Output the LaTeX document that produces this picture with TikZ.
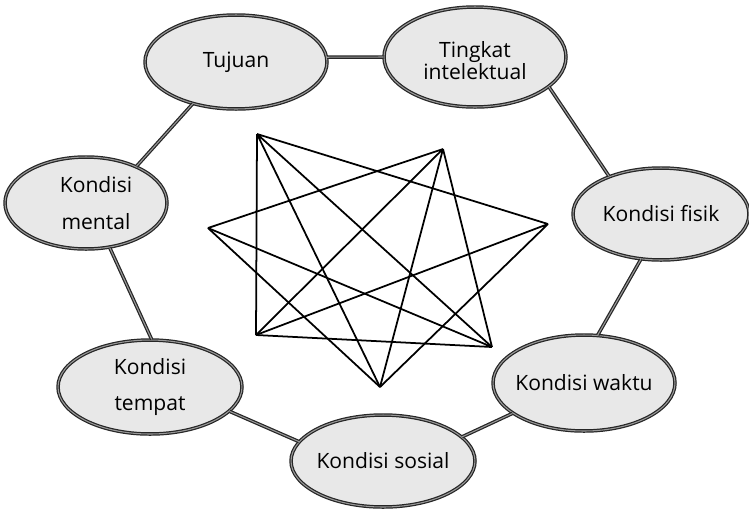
\documentclass[tikz,border=0pt]{standalone}
\usepackage{fontspec}
\setmainfont{Open Sans}
\usetikzlibrary{shapes.geometric}

\begin{document}
\begin{tikzpicture}[x=0.02cm,y=-0.02cm,
  bubble/.style={ellipse,draw=black!85,double=black!40,double distance=0.6pt,line width=0.7pt,fill=gray!18,inner sep=0pt},
  bubbletext/.style={font=\fontsize{12}{14}\selectfont,align=center,text=black},
  link/.style={draw=black!85,double=black!40,double distance=0.6pt,line width=0.7pt},
  star/.style={black,line width=1pt,line join=round}]
\useasboundingbox (0,0) rectangle (749,508);
% the seven bubbles
\node[bubble,minimum width=3.64cm,minimum height=1.88cm,label={[bubbletext]center:Tujuan}] (tujuan) at (236,62) {};
\node[bubble,minimum width=3.64cm,minimum height=2.0cm,label={[bubbletext,yshift=-0.08cm]center:Tingkat\\[-1.5pt]intelektual}] (tingkat) at (475,57) {};
\node[bubble,minimum width=3.52cm,minimum height=1.84cm,label={[bubbletext]center:Kondisi fisik}] (fisik) at (661,214) {};
\node[bubble,minimum width=3.64cm,minimum height=1.92cm,label={[bubbletext]center:Kondisi waktu}] (waktu) at (584,383) {};
\node[bubble,minimum width=3.68cm,minimum height=1.84cm,label={[bubbletext]center:Kondisi sosial}] (sosial) at (383,461) {};
\node[bubble,minimum width=3.68cm,minimum height=1.88cm,label={[bubbletext]center:Kondisi\\[7pt]tempat}] (tempat) at (150,387) {};
\node[bubble,minimum width=3.24cm,minimum height=1.84cm,label={[bubbletext,xshift=0.2cm]center:Kondisi\\[7pt]mental}] (mental) at (86,203) {};
% ring of links
\draw[link] (tujuan.3) -- (tingkat.180);
\draw[link] (tingkat.-22) -- (fisik.144);
\draw[link] (fisik.-114) -- (waktu.74);
\draw[link] (waktu.203) -- (sosial.17);
\draw[link] (sosial.167) -- (tempat.-17);
\draw[link] (tempat.88) -- (mental.-62);
\draw[link] (mental.36) -- (tujuan.224);
% star in the middle
\coordinate (sa) at (257,134);
\coordinate (sb) at (443,149);
\coordinate (sc) at (548,224);
\coordinate (sd) at (492,347);
\coordinate (se) at (380,387);
\coordinate (sf) at (256,335);
\coordinate (sg) at (208,228);
\draw[star] (sa) -- (sf) (sa) -- (se) (sa) -- (sd) (sa) -- (sc);
\draw[star] (sb) -- (sg) (sb) -- (sf) (sb) -- (se) (sb) -- (sd);
\draw[star] (sc) -- (sf) (sc) -- (se);
\draw[star] (sd) -- (sf) (sd) -- (sg);
\draw[star] (se) -- (sg);
\end{tikzpicture}
\end{document}
